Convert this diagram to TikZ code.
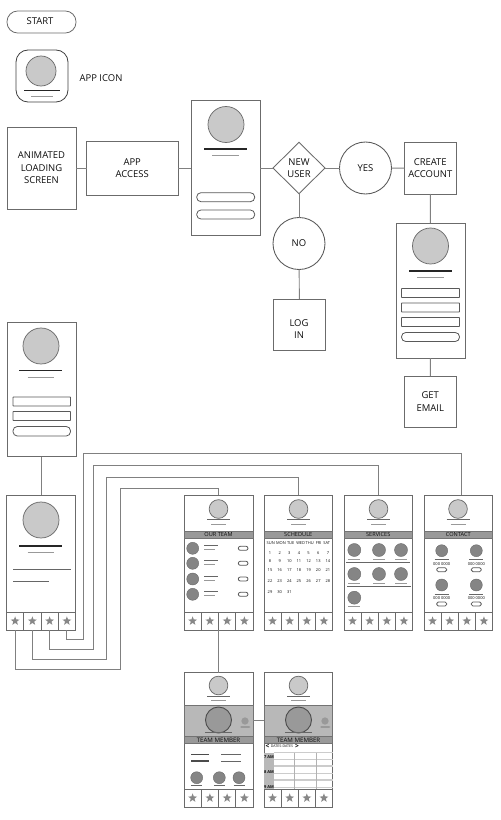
\documentclass[tikz,border=0pt]{standalone}
\usepackage{fontspec}
\setmainfont{Open Sans}
\usetikzlibrary{shapes.geometric}
\definecolor{frameC}{gray}{0.42}
\definecolor{wireC}{gray}{0.5}
\definecolor{lightC}{gray}{0.79}
\definecolor{midC}{gray}{0.72}
\definecolor{bandC}{gray}{0.6}
\definecolor{dotC}{gray}{0.52}
\definecolor{inkC}{gray}{0.05}
\newcommand{\lab}{\fontsize{7.1}{9.3}\selectfont}
\newcommand{\hdr}{\fontsize{4.2}{5}\selectfont}
\newcommand{\tin}{\fontsize{3}{3.5}\selectfont}
\tikzset{
  frame/.style={draw=frameC,line width=0.65pt,fill=white,inner sep=0pt,outer sep=0pt,text=inkC,align=center,font=\lab},
  wire/.style={draw=wireC,line width=0.7pt},
  dark/.style={draw=black!85,line width=0.8pt},
  faint/.style={draw=black!40,line width=0.7pt},
  rule/.style={draw=black!60,line width=0.6pt},
  ball/.style={circle,draw=frameC,fill=lightC,line width=0.55pt,inner sep=0pt},
  dot/.style={circle,draw=dotC!80!black,fill=dotC,line width=0.3pt,inner sep=0pt},
  pillbox/.style={draw=black!65,line width=0.6pt,fill=white},
  starry/.style={star,star points=5,star point ratio=2.4,fill=black!47,inner sep=0pt,minimum size=7pt},
  smalltext/.style={inner sep=0pt,text=inkC,font=\hdr},
  tinytext/.style={inner sep=0pt,text=inkC,font=\tin}
}
% box by corners: name, x1, y1, x2, y2, text
\newcommand{\fbx}[6]{%
  \pgfmathsetmacro{\bw}{#4-#2}\pgfmathsetmacro{\bh}{#5-#3}%
  \pgfmathsetmacro{\bx}{(#2+#4)/2}\pgfmathsetmacro{\by}{(#3+#5)/2}%
  \node[frame,minimum width=\bw*0.75pt,minimum height=\bh*0.75pt] (#1) at (\bx,\by) {#6};}
% pill and field
\newcommand{\pil}[4]{\draw[pillbox,rounded corners=3.2pt] (#1,#2) rectangle (#3,#4);}
\newcommand{\fld}[4]{\draw[pillbox,rounded corners=0.4pt] (#1,#2) rectangle (#3,#4);}
\newcommand{\sball}[3]{\node[ball,minimum size=#3*1.5pt] at (#1,#2) {};}
\newcommand{\sdot}[3]{\node[dot,minimum size=#3*1.5pt] at (#1,#2) {};}
% tab bar: screen name, x1, ytop, x2, ybottom
\newcommand{\tabs}[5]{%
  \pgfmathsetmacro{\cw}{(#4-#2)/4}\pgfmathsetmacro{\ch}{#5-#3}\pgfmathsetmacro{\cy}{(#3+#5)/2}%
  \foreach \i in {1,2,3,4}{%
    \pgfmathsetmacro{\cx}{#2+(\i-0.5)*\cw}%
    \node[frame,minimum width=\cw*0.75pt,minimum height=\ch*0.75pt] (#1-t\i) at (\cx,\cy) {};
    \node[starry] at (\cx,\cy) {};
  }}
% small screen head: center x, y of circle
\newcommand{\shead}[2]{%
  \node[ball,minimum size=14pt] at (#1,#2) {};
  \draw[rule] ({#1-11.5},{#2+10.7}) -- ({#1+11.5},{#2+10.7});
  \draw[faint] ({#1-7.5},{#2+15}) -- ({#1+7.5},{#2+15});}
% title band
\newcommand{\band}[4]{\fill[bandC] (#1,#2) rectangle (#3,#2+7.5);\draw[draw=black!55,line width=0.4pt] (#1,#2) rectangle (#3,#2+7.5);
  \node[smalltext] at ({(#1+#3)/2},#2+3.9) {#4};}
\begin{document}
\begin{tikzpicture}[x=0.75pt,y=-0.75pt]
\path[use as bounding box] (0,0) rectangle (500,820);

% top flow
\draw[pillbox,draw=frameC,line width=0.6pt,rounded corners=8pt] (7,11) rectangle (76,33);
\node[smalltext,font=\lab] (start) at (40,21) {START};
\draw[draw=black!75,line width=0.6pt,fill=white,rounded corners=9pt] (16,50) rectangle (68,102);
\sball{41}{71}{15}
\draw[dark] (24,90.5) -- (60,90.5);
\draw[faint] (31,96) -- (53,96);
\node[smalltext,font=\lab] (appicon) at (101,78) {APP ICON};

\fbx{load}{7}{127}{76}{209}{ANIMATED\\LOADING\\SCREEN}
\fbx{access}{86.5}{141}{178}{195}{APP\\ACCESS}
\fbx{signin}{191}{100}{260}{235}{}
\sball{226}{124.5}{18}
\draw[dark] (204,149) -- (247,149);
\draw[faint] (212,155.5) -- (239,155.5);
\pil{196.7}{192.7}{254.7}{201.7}
\pil{196.7}{210}{254.7}{219}
\node[diamond,frame,minimum width=39pt,minimum height=38.5pt,aspect=1] (newuser) at (299,168) {};
\node[smalltext,font=\lab,align=center] (newuserlab) at (299,168) {NEW\\USER};
\node[circle,frame,draw=black!65,minimum size=39pt] (yes) at (365.5,168) {YES};
\fbx{create}{404.5}{142.5}{456}{194}{CREATE\\ACCOUNT}
\node[circle,frame,draw=black!65,minimum size=39pt] (no) at (299,243.5) {NO};
\fbx{login}{273.5}{299}{325.5}{350}{}
\node[smalltext,font=\lab,align=center] (loginlab) at (299,329) {LOG\\IN};
\fbx{signup}{396}{223}{465}{358}{}
\sball{430.5}{246}{18}
\draw[dark] (409,271) -- (452,271);
\draw[faint] (417,277.5) -- (444,277.5);
\fld{401.5}{288.5}{459.5}{297.5}
\fld{401.5}{303}{459.5}{312}
\fld{401.5}{317.5}{459.5}{326.5}
\pil{401.5}{332.5}{459.5}{341.5}
\fbx{email}{404.5}{376}{456}{427}{GET\\EMAIL}

\draw[wire] (load.east |- access) -- (access);
\draw[wire] (access) -- (signin.west |- access);
\draw[wire] (signin.east |- newuser) -- (newuser);
\draw[wire] (newuser) -- (yes);
\draw[wire] (yes) -- (create);
\draw[wire] (newuser) -- (no);
\draw[wire] (no) -- (login);
\draw[wire] (create) -- (signup);
\draw[wire] (signup) -- (email);

% left screens
\fbx{relog}{7.5}{322.5}{76}{456.5}{}
\sball{41}{346}{18}
\draw[dark] (19,370.5) -- (62,370.5);
\draw[faint] (27.5,377) -- (54,377);
\fld{13}{397}{70.5}{406}
\fld{13}{411.5}{70.5}{420.5}
\pil{13}{426.5}{70.5}{436}
\fbx{home}{6.5}{495}{75.5}{630}{}
\sball{41}{520}{18}
\draw[dark] (19,546) -- (62,546);
\draw[faint] (27.5,552.5) -- (54,552.5);
\draw[rule] (13,569.5) -- (70.5,569.5);
\draw[rule] (13,581.5) -- (49,581.5);
\tabs{home}{6.5}{612}{75.5}{630}
\draw[wire] (relog.south) -- (home.north -| relog.south);

% our team
\fbx{team}{184}{495}{253}{630}{}
\shead{218.5}{509}
\band{184}{531}{253}{OUR TEAM}
\foreach \yy in {548.3,563.3,579,594.3}{
  \sdot{192.7}{\yy}{6}
  \draw[rule] (204,\yy-3) -- (218,\yy-3);
  \draw[faint] (204,\yy+1) -- (215,\yy+1);
  \draw[pillbox,rounded corners=1.5pt] (238.3,\yy-2) rectangle (248,\yy+2);
}
\tabs{team}{184}{612}{253}{630}

% schedule
\fbx{sched}{264}{495}{332.5}{630}{}
\shead{298.5}{509}
\band{264}{531}{332.5}{SCHEDULE}
\foreach \d/\xx in {SUN/270.7,MON/281,TUE/290.7,WED/300.7,THU/309.7,FRI/318.7,SAT/326.7}
  \node[tinytext] at (\xx,543.3) {\d};
\foreach \n [count=\c from 0] in {1,...,31}{
  \pgfmathtruncatemacro{\cc}{mod(\c,7)}
  \pgfmathtruncatemacro{\rr}{int(\c/7)}
  \pgfmathsetmacro{\xx}{270+\cc*9.65}
  \pgfmathsetmacro{\yy}{\rr==0?552.7:(\rr==1?560.7:(\rr==2?570.3:(\rr==3?580.7:592.3)))}
  \node[tinytext] at (\xx,\yy) {\n};
}
\tabs{sched}{264}{612}{332.5}{630}

% services
\fbx{serv}{344}{495}{412.5}{630}{}
\shead{378.5}{509}
\band{344}{531}{412.5}{SERVICES}
\foreach \xx/\yy in {354.3/550,379/550,401/550,354.3/574,379/574,401/574,354.3/597.7}{
  \sdot{\xx}{\yy}{6.5}
  \draw[faint] (\xx-6,\yy+9) -- (\xx+6,\yy+9);
}
\draw[rule] (346,562.7) -- (410,562.7);
\draw[rule] (347,586.7) -- (411,586.7);
\tabs{serv}{344}{612}{412.5}{630}

% contact
\fbx{contact}{424}{495}{492.5}{630}{}
\shead{458}{509}
\band{424}{531}{492.5}{CONTACT}
\foreach \xx/\yy in {441.7/550.7,476.3/550.7,441.7/585,476.3/585}{
  \sdot{\xx}{\yy}{6}
  \draw[rule] (\xx-7,\yy+9) -- (\xx+7,\yy+9);
  \node[tinytext] at (\xx,\yy+13) {000 0000};
  \draw[pillbox,rounded corners=1.2pt] (\xx-5,\yy+17) rectangle (\xx+5,\yy+21);
}
\tabs{contact}{424}{612}{492.5}{630}

% wires from home tabs
\coordinate (contactin) at (461,495);
\draw[wire] (home-t4.south) |- (83.5,639) -- (83.5,453) -| (contactin);
\draw[wire] (home-t3.south) |- (93.5,649) -- (93.5,465) -| (serv.north);
\draw[wire] (home-t2.south) |- (106,659) -- (106,477.5) -| (sched.north);
\draw[wire] (home-t1.south) |- (120.5,669.5) -- (120.5,488) -| (team.north);

% team member
\fbx{memA}{184}{672.5}{253}{807}{}
\fbx{memB}{264}{672.5}{332.5}{807}{}
\foreach \cxx/\xa/\xb in {218.5/184/253,298.5/264/332.5}{
  \shead{\cxx}{685.5}
  \fill[midC] (\xa,705.7) rectangle (\xb,736.7);
  \draw[draw=black!55,line width=0.4pt] (\xa,705.7) rectangle (\xb,736.7);
  \node[circle,draw=black!70,fill=bandC,line width=0.7pt,inner sep=0pt,minimum size=19.5pt] at (\cxx,720) {};
  \draw[rule,line width=0.7pt] (\cxx-13.5,732.7) -- (\cxx+13.5,732.7);
  \node[circle,fill=bandC,inner sep=0pt,minimum size=5.5pt] at (\cxx+26.5,721) {};
  \draw[draw=bandC,line width=2.2pt,line cap=round] (\cxx+23,727) -- (\cxx+30.5,727);
  \fill[bandC] (\xa,736.7) rectangle (\xb,743.7);
  \draw[draw=black!55,line width=0.4pt] (\xa,736.7) rectangle (\xb,743.7);
  \node[smalltext,font=\fontsize{4.6}{5}\selectfont] at (\cxx,740.4) {TEAM MEMBER};
}
\draw[dark,draw=black!70] (191,754.3) -- (209,754.3);
\draw[dark,draw=black!70] (191,761) -- (209,761);
\draw[rule] (221,754.3) -- (241,754.3);
\draw[rule] (221,761) -- (241,761);
\foreach \xx in {196.7,219.3,239}{
  \sdot{\xx}{777.7}{6}
  \draw[rule] (\xx-5.5,785) -- (\xx+5.5,785);
}
\tabs{memA}{184}{789}{253}{807}

\node[smalltext,font=\fontsize{2.7}{3.2}\selectfont] at (282,746.7) {DATES-DATES};
\node[smalltext,font=\bfseries\fontsize{5}{6}\selectfont] at (267.5,746.5) {<};
\node[smalltext,font=\bfseries\fontsize{5}{6}\selectfont] at (297,746.5) {>};
\fill[midC] (264,752.7) rectangle (274,789);
\foreach \yy in {752.7,759.3,766,773.3,780,787.7}
  \draw[draw=black!20,line width=0.8pt] (274,\yy) -- (332.5,\yy);
\foreach \xx in {294.3,316.3}
  \draw[draw=black!30,line width=0.5pt] (\xx,752.7) -- (\xx,789);
\node[tinytext,font=\bfseries\tin] at (269,756.7) {7 AM};
\node[tinytext,font=\bfseries\tin] at (269,771.7) {8 AM};
\node[tinytext,font=\bfseries\tin] at (269,787) {9 AM};
\tabs{memB}{264}{789}{332.5}{807}

\draw[wire] (team-t2.south east) -- (memA.north -| team-t2.south east);
\draw[wire] (memA.east |- 0,720.7) -- (memB.west |- 0,720.7);
\end{tikzpicture}
\end{document}
